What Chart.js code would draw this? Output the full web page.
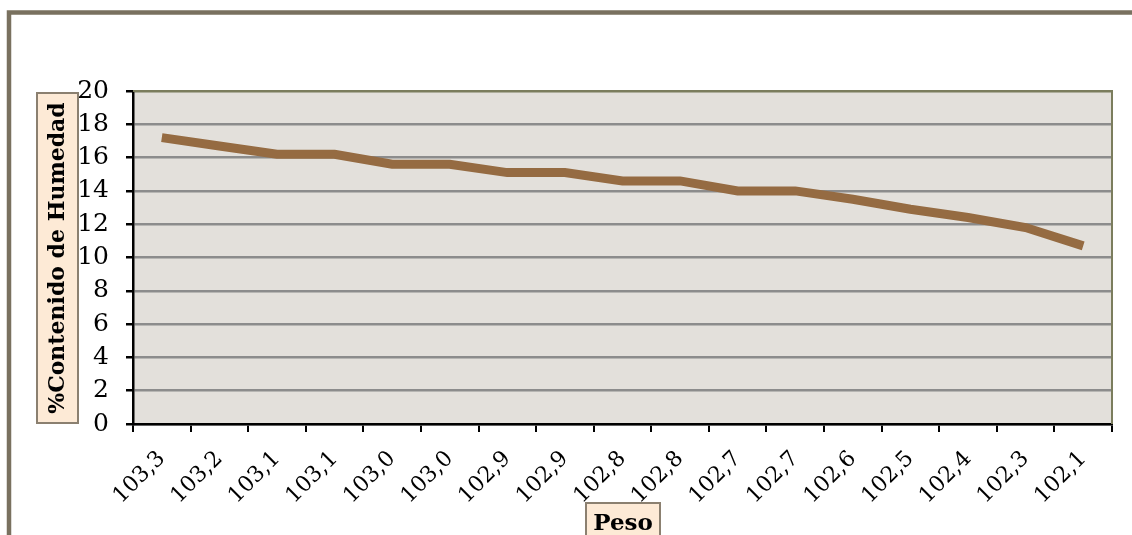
<!DOCTYPE html>
<html>
<head>
<meta charset="utf-8">
<script src="https://cdn.jsdelivr.net/npm/chart.js@4/dist/chart.umd.min.js"></script>
<style>
  html, body { margin: 0; padding: 0; background: #ffffff; }
  #wrap { width: 1132px; height: 535px; position: relative; }
</style>
</head>
<body>
<div id="wrap"><canvas id="chart" width="1132" height="535"></canvas></div>
<script>
// Peso (x categories) and moisture content (%) readings
const pesoLabels = ['103,3', '103,2', '103,1', '103,1', '103,0', '103,0', '102,9', '102,9',
  '102,8', '102,8', '102,7', '102,7', '102,6', '102,5', '102,4', '102,3', '102,1'];
const humedad = [17.2, 16.7, 16.2, 16.2, 15.6, 15.6, 15.1, 15.1,
  14.6, 14.6, 14.0, 14.0, 13.5, 12.9, 12.4, 11.8, 10.7];
const yTicks = [0, 2, 4, 6, 8, 10, 12, 14, 16, 18, 20];
const yTitle = '%Contenido de Humedad';
const xTitle = 'Peso';

const SERIF = '"DejaVu Serif", "Liberation Serif", serif';
const FRAME = '#79715f';
const PLOT_BG = '#e3e0db';
const PLOT_EDGE = '#7b7d5d';
const GRID = '#8c8c8c';
const BOX_FILL = '#fdead6';
const BOX_EDGE = '#8b8070';

const decorations = {
  id: 'decorations',
  beforeDraw(chart) {
    const c = chart.ctx, a = chart.chartArea;
    c.save();
    c.fillStyle = '#ffffff';
    c.fillRect(0, 0, chart.width, chart.height);
    // outer frame (left and top)
    c.strokeStyle = FRAME;
    c.lineWidth = 4.5;
    c.beginPath();
    c.moveTo(9, chart.height + 5);
    c.lineTo(9, 12.5);
    c.lineTo(chart.width + 5, 12.5);
    c.stroke();
    // plot background
    c.fillStyle = PLOT_BG;
    c.fillRect(a.left, a.top, a.right - a.left, a.bottom - a.top);
    c.restore();
  },
  afterDraw(chart) {
    const c = chart.ctx, a = chart.chartArea;
    c.save();
    // top and right edges of the plot
    c.strokeStyle = PLOT_EDGE;
    c.lineWidth = 2;
    c.beginPath();
    c.moveTo(a.left, a.top);
    c.lineTo(a.right, a.top);
    c.lineTo(a.right, a.bottom);
    c.stroke();

    // y-axis title box
    const bx = 37, by = 93, bw = 41, bh = 330;
    c.fillStyle = BOX_FILL;
    c.fillRect(bx, by, bw, bh);
    c.strokeStyle = BOX_EDGE;
    c.lineWidth = 2;
    c.strokeRect(bx, by, bw, bh);
    c.translate(bx + bw / 2, by + bh / 2);
    c.rotate(-Math.PI / 2);
    c.fillStyle = '#000000';
    c.font = 'bold 22px ' + SERIF;
    c.textAlign = 'center';
    c.textBaseline = 'middle';
    c.fillText(yTitle, 0, 1);
    c.setTransform(1, 0, 0, 1, 0, 0);

    // x-axis title box
    const px = 586, py = 503, pw = 74, ph = 40;
    c.fillStyle = BOX_FILL;
    c.fillRect(px, py, pw, ph);
    c.strokeStyle = BOX_EDGE;
    c.strokeRect(px, py, pw, ph);
    c.fillStyle = '#000000';
    c.font = 'bold 23px ' + SERIF;
    c.textAlign = 'center';
    c.textBaseline = 'alphabetic';
    c.fillText(xTitle, px + pw / 2, 530);
    c.restore();
  }
};

new Chart(document.getElementById('chart'), {
  type: 'line',
  data: {
    labels: pesoLabels,
    datasets: [{
      data: humedad,
      borderColor: '#956b42',
      borderWidth: 9,
      borderCapStyle: 'butt',
      borderJoinStyle: 'miter',
      pointRadius: 0,
      pointHoverRadius: 0,
      tension: 0,
      fill: false
    }]
  },
  options: {
    responsive: false,
    animation: false,
    events: [],
    layout: { padding: { top: 91, right: 20, left: 0, bottom: 0 } },
    plugins: {
      legend: { display: false },
      tooltip: { enabled: false },
      title: { display: false }
    },
    scales: {
      x: {
        type: 'category',
        offset: true,
        afterFit(scale) { scale.height = 111; },
        grid: {
          offset: true,
          drawOnChartArea: false,
          drawTicks: true,
          tickLength: 8,
          color: '#000000',
          lineWidth: 2
        },
        border: { color: '#000000', width: 2.5 },
        ticks: {
          autoSkip: false,
          minRotation: 45,
          maxRotation: 45,
          padding: 14,
          color: '#000000',
          font: { family: SERIF, size: 22 }
        }
      },
      y: {
        min: 0,
        max: 20,
        afterFit(scale) { scale.width = 133; },
        afterBuildTicks(scale) { scale.ticks = yTicks.map(v => ({ value: v })); },
        grid: {
          color: ctx => (ctx.tick && ctx.tick.value === 20) ? PLOT_EDGE : GRID,
          lineWidth: 2.5,
          tickColor: '#000000',
          tickLength: 7
        },
        border: { color: '#000000', width: 2.5 },
        ticks: {
          padding: 17,
          color: '#000000',
          font: { family: SERIF, size: 25 }
        }
      }
    }
  },
  plugins: [decorations]
});
</script>
</body>
</html>
